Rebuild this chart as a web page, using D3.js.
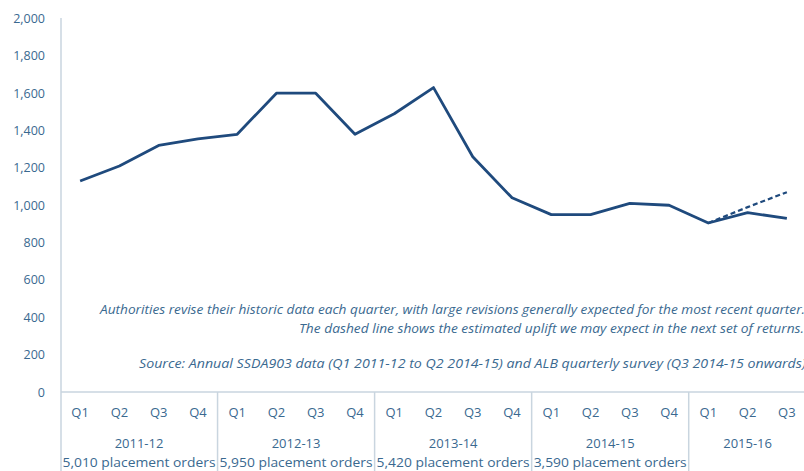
<!DOCTYPE html>
<html><head><meta charset="utf-8">
<script src="https://cdn.jsdelivr.net/npm/d3@7"></script>
<style>body{margin:0;background:#fff}svg{display:block}</style>
</head><body>
<script>
const quarters = ["Q1","Q2","Q3","Q4","Q1","Q2","Q3","Q4","Q1","Q2","Q3","Q4","Q1","Q2","Q3","Q4","Q1","Q2","Q3"];
const years = ["2011-12","2012-13","2013-14","2014-15","2015-16"];
const yearQuarterCounts = [4,4,4,4,3];
const placementOrders = ["5,010 placement orders","5,950 placement orders","5,420 placement orders","3,590 placement orders",""];
const values = [1130,1210,1320,1355,1380,1600,1600,1380,1490,1630,1260,1040,950,950,1010,1000,905,960,930];
const estimateIdx = [16,17,18];
const estimateValues = [905,990,1070];
const yTicks = [0,200,400,600,800,1000,1200,1400,1600,1800,2000];
const notes = ["Authorities revise their historic data each quarter, with large revisions generally expected for the most recent quarter.",
               "The dashed line shows the estimated uplift we may expect in the next set of returns."];
const source = "Source: Annual SSDA903 data (Q1 2011-12 to Q2 2014-15) and ALB quarterly survey (Q3 2014-15 onwards)";

const W = 804, H = 471;
const svg = d3.select("body").append("svg").attr("width", W).attr("height", H);
const font = "'Open Sans', sans-serif";
const textCol = "#3a6990";
const lineCol = "#1f4a7d";
const axisCol = "#c9d5df";

const x = d3.scaleBand().domain(d3.range(quarters.length)).range([60.5, 806.5]).paddingInner(0).paddingOuter(0);
const y = d3.scaleLinear().domain([0, 2000]).range([392, 18.5]);

// y axis
const yAxis = svg.append("g").attr("transform", "translate(61,0)")
  .call(d3.axisLeft(y).tickValues(yTicks).tickSize(0).tickPadding(16).tickFormat(d3.format(",")));
yAxis.select(".domain").remove();
yAxis.selectAll("text").attr("font-family", font).attr("font-size", 12.5).attr("fill", textCol);
svg.append("line").attr("x1", 61).attr("x2", 61).attr("y1", 18).attr("y2", H).attr("stroke", axisCol).attr("stroke-width", 1.5);

// x axis
svg.append("line").attr("x1", 61).attr("x2", W).attr("y1", 392).attr("y2", 392).attr("stroke", axisCol).attr("stroke-width", 1.5);
const xAxis = svg.append("g").attr("transform", "translate(0,392)")
  .call(d3.axisBottom(x).tickSize(0).tickPadding(16).tickFormat(i => quarters[i]));
xAxis.select(".domain").remove();
xAxis.selectAll("text").attr("font-family", font).attr("font-size", 13).attr("fill", textCol);

// year groups
let start = 0;
years.forEach((yr, k) => {
  const n = yearQuarterCounts[k];
  const x0 = x(start), x1 = x(start + n - 1) + x.bandwidth();
  if (k > 0) svg.append("line").attr("x1", x0).attr("x2", x0).attr("y1", 392).attr("y2", H).attr("stroke", axisCol).attr("stroke-width", 1.5);
  const cx = (x0 + x1) / 2;
  svg.append("text").attr("x", cx).attr("y", 447.5).attr("text-anchor", "middle")
    .attr("font-family", font).attr("font-size", 13).attr("fill", textCol).text(yr);
  if (placementOrders[k]) svg.append("text").attr("x", cx).attr("y", 467).attr("text-anchor", "middle")
    .attr("font-family", font).attr("font-size", 13).attr("fill", textCol)
    .attr("textLength", 153).attr("lengthAdjust", "spacingAndGlyphs").text(placementOrders[k]);
  start += n;
});

// lines
const line = d3.line().x(d => x(d[0]) + x.bandwidth() / 2).y(d => y(d[1]));
svg.append("path").datum(estimateIdx.map((i, j) => [i, estimateValues[j]]))
  .attr("d", line).attr("fill", "none").attr("stroke", lineCol).attr("stroke-width", 2.2).attr("stroke-dasharray", "5,3");
svg.append("path").datum(values.map((v, i) => [i, v]))
  .attr("d", line).attr("fill", "none").attr("stroke", lineCol).attr("stroke-width", 2.8).attr("stroke-linejoin", "round");

// notes
const noteG = svg.append("g").attr("font-family", font).attr("font-style", "italic").attr("font-size", 11.8).attr("fill", textCol);
noteG.append("text").attr("x", 100).attr("y", 314).attr("textLength", 705).attr("lengthAdjust", "spacingAndGlyphs").text(notes[0]);
noteG.append("text").attr("x", 299).attr("y", 332.5).attr("textLength", 505).attr("lengthAdjust", "spacingAndGlyphs").text(notes[1]);
noteG.append("text").attr("x", 139).attr("y", 368).attr("textLength", 667).attr("lengthAdjust", "spacingAndGlyphs").text(source);
</script>
</body></html>
